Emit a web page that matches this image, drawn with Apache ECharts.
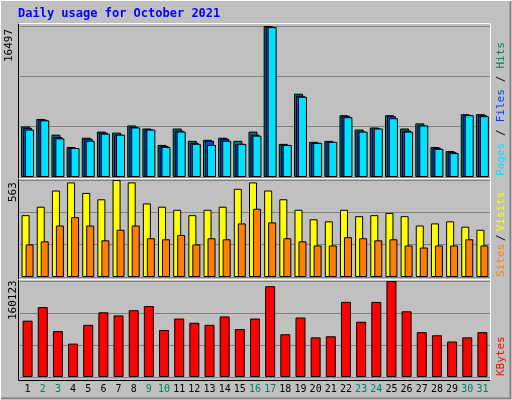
<!DOCTYPE html><html><head><meta charset="utf-8"><script src="https://cdn.jsdelivr.net/npm/echarts@6/dist/echarts.min.js"></script>
<style>html,body{margin:0;padding:0;background:#c0c0c0}#c{width:512px;height:400px}</style></head><body><div id="c"></div><script>
const days=['1','2','3','4','5','6','7','8','9','10','11','12','13','14','15','16','17','18','19','20','21','22','23','24','25','26','27','28','29','30','31'];
const weekend=['2','3','9','10','16','17','23','24','30','31'];
const hits=[5520,6340,4625,3280,4290,4960,4850,5630,5300,3505,5300,3950,4065,4290,3950,4960,16497,3620,9100,3840,3950,6750,5185,5410,6750,5300,5860,3280,2835,6860,6860];
const files=[5370,6270,4365,3170,4180,4850,4625,5480,5185,3395,5070,3730,3950,4180,3620,4625,16410,3505,8880,3730,3840,6640,4960,5300,6640,5070,5630,3170,2720,6750,6750];
const pages=[5185,6190,4215,3170,3950,4735,4625,5410,5185,3280,4960,3620,3505,3950,3620,4515,16375,3505,8765,3730,3840,6530,4960,5300,6420,4960,5630,3060,2610,6750,6640];
const visits=[359,408,502,549,488,451,563,549,427,408,390,359,390,408,512,549,502,451,390,335,323,390,353,359,372,353,299,311,323,292,274];
const sites=[189,207,299,347,299,213,274,299,225,219,244,189,225,219,311,396,317,225,207,183,183,231,225,213,219,183,171,183,183,219,183];
const kbytes=[94000,116600,76600,55700,87000,107900,102700,111400,118300,78300,97500,90500,87000,101000,80000,97500,151400,71300,99200,66100,67900,125300,92200,125300,160123,109600,74800,69600,59200,66100,74800];
const maxHits=16497, maxVisits=563, maxK=160123;
const F='DejaVu Sans Mono';
const grids=[{left:20,right:22,top:26,height:151},{left:20,right:22,top:180,height:97},{left:20,right:22,top:281,height:96}];
function xa(i,show){return {type:'category',gridIndex:i,data:days,boundaryGap:true,axisLine:{show:false},axisTick:{show:false},
 axisLabel:{show:show,interval:0,fontFamily:F,fontSize:10,margin:7,color:function(v){return weekend.indexOf(v)>=0?'#00805f':'#000';}}};}
function ya(i,m){return {type:'value',gridIndex:i,min:0,max:m,interval:m/3,axisLabel:{show:false},axisLine:{show:false},axisTick:{show:false},splitLine:{lineStyle:{color:'#808080',width:1}}};}
const bs={borderColor:'#000',borderWidth:1};
const f11='11px "DejaVu Sans Mono"';
const opt={animation:false,backgroundColor:'#c0c0c0',grid:grids,
 xAxis:[xa(0,false),xa(1,false),xa(2,true)],yAxis:[ya(0,maxHits),ya(1,maxVisits),ya(2,maxK)],
 series:[
 {type:'bar',xAxisIndex:0,yAxisIndex:0,data:hits,barWidth:9,barGap:'-78%',itemStyle:Object.assign({color:'#00805f'},bs)},
 {type:'bar',xAxisIndex:0,yAxisIndex:0,data:files,barWidth:9,barGap:'-78%',itemStyle:Object.assign({color:'#0040ff'},bs)},
 {type:'bar',xAxisIndex:0,yAxisIndex:0,data:pages,barWidth:9,barGap:'-78%',itemStyle:Object.assign({color:'#00e0ff'},bs)},
 {type:'bar',xAxisIndex:1,yAxisIndex:1,data:visits,barWidth:8,barGap:'-50%',itemStyle:Object.assign({color:'#ffff00'},bs)},
 {type:'bar',xAxisIndex:1,yAxisIndex:1,data:sites,barWidth:8,barGap:'-50%',itemStyle:Object.assign({color:'#ff8000'},bs)},
 {type:'bar',xAxisIndex:2,yAxisIndex:2,data:kbytes,barWidth:10,itemStyle:Object.assign({color:'#ff0000'},bs)}
 ],
 graphic:[
 {type:'rect',shape:{x:0.5,y:0.5,width:511,height:399},style:{fill:null,stroke:'#ffffff',lineWidth:1},silent:true},
 {type:'polyline',shape:{points:[[1,398.5],[510.5,398.5],[510.5,1]]},style:{stroke:'#808080',lineWidth:2,fill:null}},
 {type:'rect',shape:{x:18.5,y:23.5,width:472,height:357},style:{fill:null,stroke:'#000',lineWidth:1},z:-1},
 {type:'polyline',shape:{points:[[18.5,178.5],[490.5,178.5]]},style:{stroke:'#fff',lineWidth:1}},
 {type:'polyline',shape:{points:[[18.5,279.5],[490.5,279.5]]},style:{stroke:'#fff',lineWidth:1}},
 {type:'polyline',shape:{points:[[18.5,23.5],[490.5,23.5],[490.5,380.5]]},style:{stroke:'#fff',lineWidth:1}},
 {type:'text',x:18,y:8,style:{text:'Daily usage for October 2021',font:'bold 12px "DejaVu Sans Mono"',fill:'#0000ff'}},
 {type:'text',x:9,y:62,rotation:Math.PI/2,style:{text:'16497',font:f11,fill:'#000',align:'left',verticalAlign:'middle'}},
 {type:'text',x:13,y:202,rotation:Math.PI/2,style:{text:'563',font:f11,fill:'#000',align:'left',verticalAlign:'middle'}},
 {type:'text',x:13,y:320,rotation:Math.PI/2,style:{text:'160123',font:f11,fill:'#000',align:'left',verticalAlign:'middle'}},
 {type:'text',x:501,y:176,rotation:Math.PI/2,style:{text:'{a|Pages}{k|/}{b|Files}{k|/}{c|Hits}',rich:{a:{fill:'#00e0ff',font:f11},b:{fill:'#0040ff',font:f11},c:{fill:'#00805f',font:f11},k:{fill:'#000',font:f11,padding:[0,7]}},align:'left',verticalAlign:'middle'}},
 {type:'text',x:501,y:277,rotation:Math.PI/2,style:{text:'{a|Sites}{k|/}{b|Visits}',rich:{a:{fill:'#ff8000',font:f11},b:{fill:'#ffff00',font:f11},k:{fill:'#000',font:f11,padding:[0,3]}},align:'left',verticalAlign:'middle'}},
 {type:'text',x:501,y:376,rotation:Math.PI/2,style:{text:'KBytes',font:f11,fill:'#ff0000',align:'left',verticalAlign:'middle'}}
 ]};
const ch=echarts.init(document.getElementById('c'));ch.setOption(opt);
</script></body></html>
